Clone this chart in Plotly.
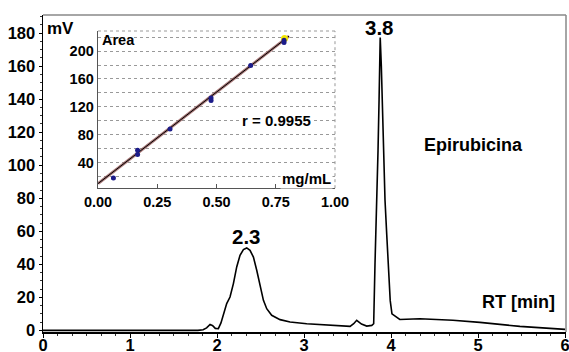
import plotly.graph_objects as go

# ---- chromatogram data (RT in min, signal in mV) ----
rt = [0.00, 0.50, 1.00, 1.45, 1.50, 1.60, 1.73, 1.78, 1.84, 1.88, 1.92, 1.95, 1.98,
      2.015, 2.045, 2.073, 2.111, 2.149, 2.188, 2.226, 2.264, 2.303, 2.341, 2.379,
      2.418, 2.456, 2.494, 2.533, 2.571, 2.628, 2.724, 2.839, 3.031, 3.299, 3.529,
      3.57, 3.605, 3.66, 3.72, 3.778, 3.80, 3.815, 3.83, 3.85, 3.862, 3.875, 3.888,
      3.90, 3.91, 3.93, 3.95, 3.97, 3.99, 4.01, 4.065, 4.10, 4.33, 4.71, 5.02, 5.48, 6.00]
signal = [0.0, 0.0, 0.0, 0.0, -0.4, -0.4, -0.4, 0.0, 0.4, 1.5, 3.6, 2.8, 1.2,
          1.0, 4.5, 10.1, 16.2, 20.2, 28.3, 38.4, 45.5, 48.9, 49.9, 48.5,
          44.4, 36.4, 26.3, 18.2, 13.1, 9.1, 6.5, 5.1, 4.0, 3.0, 2.4,
          4.0, 6.1, 3.8, 2.6, 3.0, 4.0, 40.0, 79.0, 109.0, 140.0, 177.4, 160.0,
          139.0, 109.0, 79.0, 58.0, 38.0, 18.0, 10.0, 7.7, 6.6, 7.0, 6.1, 4.8, 2.4, 0.6]

# ---- calibration inset data ----
conc = [0.065, 0.167, 0.167, 0.304, 0.477, 0.477, 0.644, 0.785, 0.785]
area = [17.7, 57.6, 51.4, 88.2, 132.8, 129.1, 179.4, 215.8, 212.5]
highlight_conc = [0.787]
highlight_area = [218.3]
fit_x = [0.0, 0.806]
fit_y = [9.6, 221.6]

main_ticks = list(range(0, 181, 20))
inset_yticks = [40, 80, 120, 160, 200]

BOLD = "Liberation Sans, Arial, sans-serif"

fig = go.Figure()

fig.add_trace(go.Scatter(x=rt, y=signal, mode="lines",
                         line=dict(color="black", width=1.6), showlegend=False,
                         xaxis="x", yaxis="y"))

fig.add_trace(go.Scatter(x=fit_x, y=fit_y, mode="lines",
                         line=dict(color="rgba(150,95,95,0.85)", width=3),
                         showlegend=False, xaxis="x2", yaxis="y2"))
fig.add_trace(go.Scatter(x=fit_x, y=fit_y, mode="lines",
                         line=dict(color="black", width=1),
                         showlegend=False, xaxis="x2", yaxis="y2"))
fig.add_trace(go.Scatter(x=highlight_conc, y=highlight_area, mode="markers",
                         marker=dict(color="#f2e600", size=7),
                         showlegend=False, xaxis="x2", yaxis="y2"))
fig.add_trace(go.Scatter(x=conc, y=area, mode="markers",
                         marker=dict(color="#1c1c8a", size=5),
                         showlegend=False, xaxis="x2", yaxis="y2"))

tf_main = dict(family=BOLD, size=16.5, color="black", weight="bold")
tf_inset = dict(family=BOLD, size=14.5, color="black", weight="bold")

fig.update_layout(
    width=569, height=352,
    margin=dict(l=43, r=3, t=15, b=20.3, autoexpand=False),
    paper_bgcolor="white", plot_bgcolor="white",
    hovermode=False,
    xaxis=dict(range=[0, 6.01], tick0=0, dtick=1, ticks="outside", ticklen=4,
               tickcolor="black", ticklabelstandoff=-6, automargin=False,
               ticklabeloverflow="allow",
               minor=dict(dtick=1/6, ticks="outside", ticklen=2, tickcolor="#333"),
               showline=True, linecolor="black", linewidth=1.5, showgrid=False,
               zeroline=False, tickfont=tf_main, domain=[0, 1], anchor="y"),
    yaxis=dict(range=[-1, 191], tickvals=main_ticks, ticks="outside", ticklen=3,
               tickcolor="black", automargin=False, ticklabeloverflow="allow",
               minor=dict(dtick=5, ticks="outside", ticklen=2, tickcolor="#333"),
               showline=True, linecolor="black", linewidth=1.5, showgrid=False,
               zeroline=False, tickfont=tf_main, domain=[0, 1], anchor="x"),
    xaxis2=dict(domain=[0.1052, 0.5583], anchor="y2", range=[0, 1], tick0=0, dtick=0.25,
                tickformat=".2f", ticks="inside", ticklen=4, tickcolor="#555",
                automargin=False, ticklabeloverflow="allow",
                showline=True, linecolor="#555", linewidth=1.3, showgrid=False,
                zeroline=False, tickfont=tf_inset),
    yaxis2=dict(domain=[0.4537, 0.9495], anchor="x2", range=[3, 229],
                tickvals=inset_yticks, ticks="", showline=True, linecolor="#555",
                automargin=False, ticklabeloverflow="allow",
                linewidth=1.3, showgrid=True, gridcolor="#999", griddash="dot",
                gridwidth=1, zeroline=False, tickfont=tf_inset,
                minor=dict(dtick=20, tick0=0, showgrid=True, gridcolor="#999",
                           griddash="dot", gridwidth=1)),
    shapes=[
        dict(type="line", xref="paper", yref="paper", x0=0, x1=1, y0=1, y1=1,
             line=dict(color="#888", width=1.5)),
        dict(type="line", xref="paper", yref="paper", x0=1, x1=1, y0=0, y1=1,
             line=dict(color="#888", width=1.5)),
        dict(type="line", xref="x2 domain", yref="y2 domain", x0=0, x1=1, y0=1, y1=1,
             line=dict(color="#999", width=1, dash="dot")),
        dict(type="line", xref="x2 domain", yref="y2 domain", x0=1, x1=1, y0=0, y1=1,
             line=dict(color="#999", width=1, dash="dot")),
    ],
    annotations=[
        dict(text="mV", x=0.023, y=183, xref="x", yref="y", xanchor="left",
             yanchor="middle", showarrow=False,
             font=dict(family=BOLD, size=17, color="black", weight="bold")),
        dict(text="2.3", x=2.34, y=57, xref="x", yref="y", showarrow=False,
             font=dict(family=BOLD, size=20.5, color="black", weight="bold")),
        dict(text="3.8", x=3.87, y=183.6, xref="x", yref="y", showarrow=False,
             font=dict(family=BOLD, size=20.5, color="black", weight="bold")),
        dict(text="Epirubicina", x=4.95, y=112, xref="x", yref="y", showarrow=False,
             font=dict(family=BOLD, size=18, color="black", weight="bold")),
        dict(text="RT [min]", x=5.46, y=17.2, xref="x", yref="y", showarrow=False,
             font=dict(family=BOLD, size=18, color="black", weight="bold")),
        dict(text="Area", x=0.008, y=215.8, xref="x2", yref="y2", xanchor="left",
             showarrow=False,
             font=dict(family=BOLD, size=14.5, color="black", weight="bold")),
        dict(text="r = 0.9955", x=0.753, y=100.7, xref="x2", yref="y2",
             showarrow=False, bgcolor="white",
             font=dict(family=BOLD, size=15, color="black", weight="bold")),
        dict(text="mg/mL", x=0.99, y=17.3, xref="x2", yref="y2", xanchor="right",
             showarrow=False, bgcolor="white",
             font=dict(family=BOLD, size=15, color="black", weight="bold")),
    ],
)

fig.write_html("out.html",
               config={"displayModeBar": False, "staticPlot": True},
               post_script="document.body.style.margin='0px';"
                           "document.body.style.overflow='hidden';")
